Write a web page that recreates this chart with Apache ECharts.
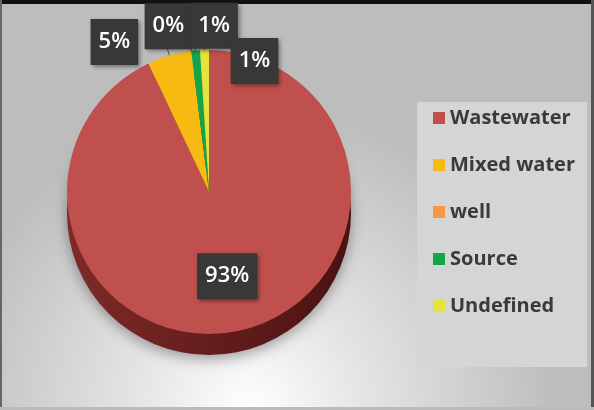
<!DOCTYPE html>
<html><head><meta charset="utf-8">
<script src="https://cdn.jsdelivr.net/npm/echarts@6/dist/echarts.min.js"></script>
<style>html,body{margin:0;padding:0;}#c{width:594px;height:410px;}</style>
</head><body><div id="c"></div>
<script>
const categories = ['Wastewater', 'Mixed water', 'well', 'Source', 'Undefined'];
const values = [93, 5, 0, 1, 1];
const colors = ['#C0504D', '#F7BA12', '#F79646', '#12A64A', '#E6E43A'];
const sideColors = ['#7E2A28', '#A07810', '#A0602C', '#0C6A30', '#96942A'];
// label nudges (dx, dy) applied by labelLayout
const labelShift = [[2, 12], [-18, -6], [13, -17], [54, -17], [85, 19]];

const chart = echarts.init(document.getElementById('c'));
const font = '"Open Sans", "Liberation Sans", sans-serif';
const CX = 209, CY = 192, R = 142, DEPTH = 21;

const topData = categories.map((n, i) => ({
  name: n, value: values[i], itemStyle: { color: colors[i] },
  label: i === 0 ? { position: 'inside', show: true } : { position: 'outside', show: true }
}));
const sideData = categories.map((n, i) => ({
  name: n, value: values[i],
  itemStyle: { color: new echarts.graphic.LinearGradient(0, 0, 1, 0, [
    { offset: 0, color: sideColors[i] }, { offset: 1, color: '#4A1212' }]) }
}));

chart.setOption({
  animation: false,
  graphic: [
    { type: 'rect', z: -10, shape: { x: 0, y: 0, width: 594, height: 410 },
      style: { fill: new echarts.graphic.RadialGradient(0.42, 1.0, 0.75, [
        { offset: 0, color: '#ffffff' }, { offset: 0.35, color: '#e6e6e6' }, { offset: 1, color: '#bdbdbd' }]) } },
    { type: 'rect', z: -9, shape: { x: 0, y: 0, width: 594, height: 4 }, style: { fill: '#111' } },
    { type: 'rect', z: -9, shape: { x: 0, y: 0, width: 2, height: 410 }, style: { fill: '#666' } },
    { type: 'rect', z: -9, shape: { x: 591, y: 0, width: 3, height: 410 }, style: { fill: '#555' } },
    { type: 'rect', z: -9, shape: { x: 0, y: 407, width: 594, height: 3 }, style: { fill: '#bbb' } },
    { type: 'rect', z: -8, shape: { x: 417, y: 102, width: 170, height: 265 }, style: { fill: '#d5d5d5' } }
  ],
  legend: {
    orient: 'vertical', left: 428, top: 103, itemWidth: 12, itemHeight: 12, itemGap: 27,
    icon: 'rect',
    data: categories.map((n, i) => ({ name: n, itemStyle: { color: colors[i] } })),
    textStyle: { fontFamily: font, fontSize: 20, fontWeight: 'bold', color: '#3a3a3a' }
  },
  series: [
    { type: 'pie', silent: true, center: [CX, CY + DEPTH], radius: R, startAngle: 90,
      label: { show: false }, labelLine: { show: false }, data: sideData, z: 1,
      itemStyle: { shadowBlur: 14, shadowColor: 'rgba(0,0,0,0.35)', shadowOffsetY: 4 } },
    { type: 'pie', center: [CX, CY], radius: R, startAngle: 90, z: 2,
      avoidLabelOverlap: false,
      data: topData,
      label: {
        formatter: '{d}%', color: '#fff', fontFamily: font, fontSize: 22, fontWeight: 600,
        backgroundColor: '#383838', padding: [13, 8, 11, 8],
        shadowBlur: 4, shadowColor: 'rgba(0,0,0,0.4)', shadowOffsetX: 2, shadowOffsetY: 2
      },
      labelLine: { show: true, length: 8, length2: 6, lineStyle: { color: '#555', width: 1 } },
      labelLayout: function (p) {
        const s = labelShift[p.dataIndex];
        return { hideOverlap: false, dx: s[0], dy: s[1] };
      },
      itemStyle: { borderWidth: 0 }
    }
  ]
});
</script></body></html>
